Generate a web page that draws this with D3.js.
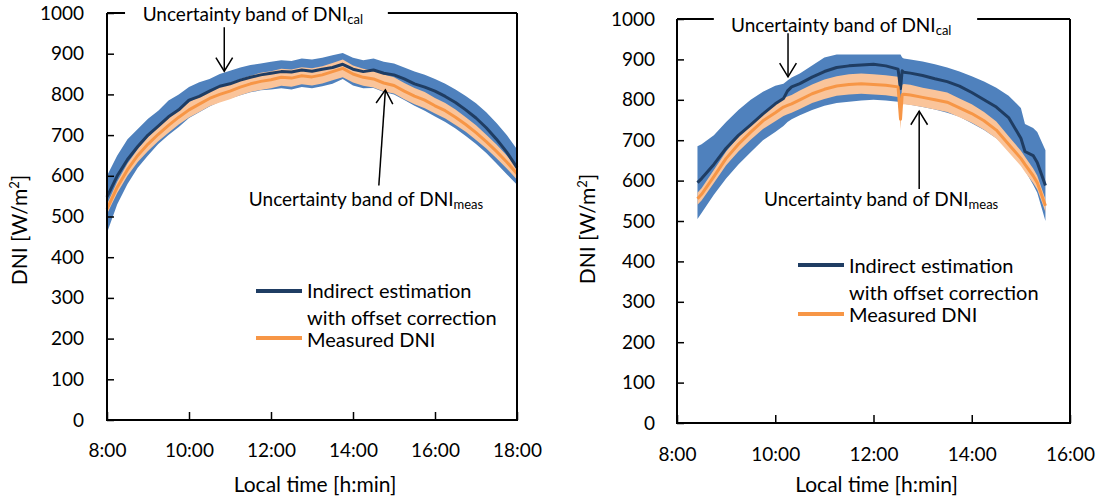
<!DOCTYPE html>
<html><head><meta charset="utf-8">
<script src="https://cdn.jsdelivr.net/npm/d3@7"></script>
<style>
body{margin:0;background:#fff;}
svg{display:block;font-family:Lato,"Open Sans",sans-serif;}
</style></head><body>
<svg id="chart" width="1107" height="500"></svg>
<script>
// ---------- data ----------
const yTicks = [0,100,200,300,400,500,600,700,800,900,1000];
const leftXTicks = ["8:00","10:00","12:00","14:00","16:00","18:00"];
const rightXTicks = ["8:00","10:00","12:00","14:00","16:00"];

const leftTimes = ["8:00","8:15","8:30","8:45","9:00","9:15","9:30","9:45","10:00","10:15","10:30","10:45","11:00","11:15","11:30","11:45","12:00","12:15","12:30","12:45","13:00","13:15","13:30","13:45","14:00","14:15","14:30","14:45","15:00","15:15","15:30","15:45","16:00","16:15","16:30","16:45","17:00","17:15","17:30","17:45","18:00"];
const leftCal = [548,600,640,672,700,722,745,762,786,795,808,820,826,835,842,848,852,856,855,860,857,862,866,874,862,856,860,852,848,838,826,818,808,795,780,762,742,718,690,658,620];
const leftCalLo = [460,530,580,620,650,678,700,720,742,756,770,782,790,798,805,810,812,815,812,818,815,820,826,838,822,815,816,806,800,786,772,760,746,732,716,698,678,656,630,604,578];
const leftCalHi = [600,650,690,715,740,760,785,800,818,830,838,850,858,866,872,876,880,884,882,888,886,890,896,902,890,884,888,880,876,866,856,848,838,826,812,796,778,756,730,700,665];
const leftMeas = [518,572,615,650,678,702,724,744,762,776,790,800,808,818,826,832,836,842,840,846,843,848,856,864,850,842,838,828,822,808,796,786,772,760,744,726,706,684,660,634,605];
const leftMeasUnc = [12,14,15,16,17,17,18,18,19,19,19,20,20,20,20,21,21,21,21,21,21,21,21,22,21,21,21,21,20,20,20,20,19,19,19,18,18,17,17,16,15];

const rightTimes = ["8:25","8:30","8:45","9:00","9:15","9:30","9:45","10:00","10:10","10:15","10:20","10:30","10:45","11:00","11:15","11:30","11:45","12:00","12:15","12:30","12:33","12:35","12:37","12:45","13:00","13:15","13:30","13:45","14:00","14:15","14:30","14:45","15:00","15:05","15:15","15:20","15:30"];
const rightCal = [595,605,640,680,712,738,765,790,803,822,832,840,856,870,880,884,886,888,884,876,828,872,868,866,860,852,845,834,818,800,782,756,705,672,662,645,588];
const rightCalLo = [505,520,565,605,640,670,700,720,735,745,752,762,775,785,792,795,798,800,798,795,750,790,790,788,782,776,768,758,742,725,705,678,640,625,590,570,500];
const rightCalHi = [685,690,712,745,775,800,820,835,840,848,855,865,885,905,912,912,912,912,912,912,912,905,902,900,895,888,880,870,858,845,830,810,780,740,730,720,675];
const rightMeas = [555,566,610,655,690,720,748,768,782,786,790,800,815,826,834,838,840,838,836,832,752,812,814,812,806,800,794,780,766,748,725,690,655,640,612,595,538];
const rightMeasUnc = [15,15,16,17,18,19,20,21,22,22,22,23,23,24,24,25,25,25,25,25,25,25,25,25,24,24,24,23,23,22,21,20,19,19,18,17,16];

const yTitle = "DNI [W/m";
const xTitle = "Local time [h:min]";
const legendCal = ["Indirect estimation", "with offset correction"];
const legendMeas = "Measured DNI";
const annoText = "Uncertainty band of DNI";

// ---------- drawing ----------
const svg = d3.select("#chart");
const toH = s => { const [h,m] = s.split(":").map(Number); return h + m/60; };
const C = {band:"#4f81bd", cal:"#1f3d63", meas:"#f79646", measBand:"#fac49a"};

function drawPanel(p){
  const x = d3.scaleLinear().domain([toH(p.xTicks[0]), toH(p.xTicks[p.xTicks.length-1])]).range([p.left,p.right]);
  const y = d3.scaleLinear().domain([0,1000]).range([p.bottom,p.top]);
  const g = svg.append("g");
  const rows = p.times.map((t,i)=>({t:toH(t),cal:p.cal[i],lo:p.calLo[i],hi:p.calHi[i],meas:p.meas[i],u:p.measUnc[i]}));

  g.append("path").datum(rows).attr("fill",C.band)
    .attr("d", d3.area().x(d=>x(d.t)).y0(d=>y(d.lo)).y1(d=>y(d.hi)));
  g.append("path").datum(rows).attr("fill",C.measBand)
    .attr("d", d3.area().x(d=>x(d.t)).y0(d=>y(d.meas-d.u)).y1(d=>y(d.meas+d.u)));
  g.append("path").datum(rows).attr("fill","none").attr("stroke",C.cal).attr("stroke-width",3).attr("stroke-linejoin","round")
    .attr("d", d3.line().x(d=>x(d.t)).y(d=>y(d.cal)));
  g.append("path").datum(rows).attr("fill","none").attr("stroke",C.meas).attr("stroke-width",3).attr("stroke-linejoin","round")
    .attr("d", d3.line().x(d=>x(d.t)).y(d=>y(d.meas)));

  // axes
  const ya = g.append("g").attr("transform",`translate(${p.left},0)`)
    .call(d3.axisLeft(y).tickValues(yTicks).tickSizeInner(-7).tickSizeOuter(0).tickPadding(p.yPad).tickFormat(d3.format("d")));
  const xa = g.append("g").attr("transform",`translate(0,${p.bottom})`)
    .call(d3.axisBottom(x).tickValues(p.xTicks.map(toH)).tickSizeInner(-8).tickSizeOuter(0).tickPadding(p.xPad)
      .tickFormat((d,i)=>p.xTicks[i]));
  [ya,xa].forEach(a=>{
    a.attr("font-family","Lato").attr("font-size",19);
    a.select(".domain").remove();
    a.selectAll(".tick line").attr("stroke","#000").attr("stroke-width",1.5);
    a.selectAll(".tick text").attr("fill","#000");
  });

  // frame
  const fr = g.append("g").attr("stroke","#000").attr("stroke-width",2).attr("fill","none");
  fr.append("path").attr("d",`M${p.left},${y(1000)}V${p.bottom}H${p.right}V${y(1000)}`);
  fr.append("line").attr("x1",p.left).attr("x2",x(p.gap[0])).attr("y1",y(1000)).attr("y2",y(1000));
  fr.append("line").attr("x1",x(p.gap[1])).attr("x2",p.right).attr("y1",y(1000)).attr("y2",y(1000));

  // titles
  const yt = g.append("text").attr("transform",`translate(${p.yTitleX},${p.yTitleY}) rotate(-90)`)
    .attr("text-anchor","middle").attr("font-size",21).attr("fill","#000");
  yt.append("tspan").text(yTitle);
  yt.append("tspan").text("2").attr("font-size",13).attr("dy",-8);
  yt.append("tspan").text("]").attr("dy",8);
  g.append("text").attr("x",(p.left+p.right)/2+3).attr("y",492).attr("text-anchor","middle")
    .attr("font-size",21).attr("fill","#000").text(xTitle);

  // legend
  const L = p.legend;
  g.append("line").attr("x1",L.x).attr("x2",L.x+46).attr("y1",L.y1).attr("y2",L.y1).attr("stroke",C.cal).attr("stroke-width",4);
  g.append("line").attr("x1",L.x).attr("x2",L.x+46).attr("y1",L.y2).attr("y2",L.y2).attr("stroke",C.meas).attr("stroke-width",4);
  const lt = g.append("g").attr("font-size",20).attr("fill","#000");
  lt.append("text").attr("x",L.x+51).attr("y",L.b[0]).text(legendCal[0]);
  lt.append("text").attr("x",L.x+51).attr("y",L.b[1]).text(legendCal[1]);
  lt.append("text").attr("x",L.x+51).attr("y",L.b[2]).text(legendMeas);

  // annotations
  p.annos.forEach(a=>{
    const t = g.append("text").attr("x",x(a.tx)).attr("y",y(a.ty)).attr("font-size",19).attr("fill","#000");
    t.append("tspan").text(annoText);
    t.append("tspan").text(a.sub).attr("font-size",13).attr("dy",3);
    const x0=x(a.from[0]), y0=y(a.from[1]), x1=x(a.to[0]), y1=y(a.to[1]);
    g.append("line").attr("x1",x0).attr("y1",y0).attr("x2",x1).attr("y2",y1).attr("stroke","#000").attr("stroke-width",1.5);
    const ang = Math.atan2(y1-y0,x1-x0), L2=16, w=0.55;
    const pts=[[x1-L2*Math.cos(ang-w),y1-L2*Math.sin(ang-w)],[x1,y1],[x1-L2*Math.cos(ang+w),y1-L2*Math.sin(ang+w)]];
    g.append("path").attr("d",d3.line()(pts)).attr("fill","none").attr("stroke","#000").attr("stroke-width",1.5);
  });
}

drawPanel({
  left:107, right:517, top:13, bottom:420, yPad:23, xPad:24,
  xTicks:leftXTicks, times:leftTimes, cal:leftCal, calLo:leftCalLo, calHi:leftCalHi, meas:leftMeas, measUnc:leftMeasUnc,
  gap:[8.44,14.85], yTitleX:27, yTitleY:230,
  legend:{x:256, y1:291, y2:338, b:[298,325,347]},
  annos:[
    {tx:8.87, ty:981, sub:"cal", from:[10.86,965], to:[10.86,857]},
    {tx:11.46, ty:526, sub:"meas", from:[14.63,576], to:[14.79,811]}
  ]
});
drawPanel({
  left:677, right:1070, top:19, bottom:423, yPad:22, xPad:25,
  xTicks:rightXTicks, times:rightTimes, cal:rightCal, calLo:rightCalLo, calHi:rightCalHi, meas:rightMeas, measUnc:rightMeasUnc,
  gap:[8.75,14.11], yTitleX:595, yTitleY:229,
  legend:{x:798, y1:265, y2:314, b:[273,300,322]},
  annos:[
    {tx:9.10, ty:967, sub:"cal", from:[10.26,965], to:[10.26,857]},
    {tx:9.77, ty:537, sub:"meas", from:[12.93,579], to:[12.93,772]}
  ]
});
</script>
</body></html>
